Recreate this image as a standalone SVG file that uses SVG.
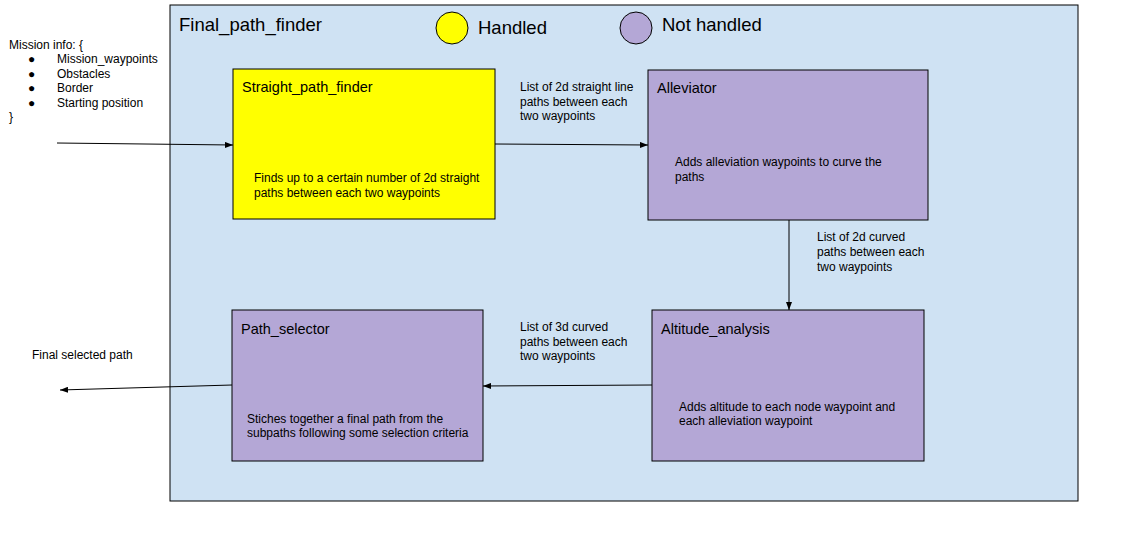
<svg xmlns="http://www.w3.org/2000/svg" width="1121" height="539" viewBox="0 0 1121 539">
<defs>
<style>
text{font-family:"Liberation Sans",Arial,sans-serif;fill:#000}
.title{font-size:14.5px}
.body{font-size:12px}
.big{font-size:18.5px}
.box{stroke:#000;stroke-width:1}
.y{fill:#ffff00}
.p{fill:#b4a7d6}
.conn{stroke:#000;stroke-width:1;fill:none;marker-end:url(#ah)}
</style>
<marker id="ah" viewBox="0 0 8 6" refX="8" refY="3" markerWidth="8" markerHeight="6" markerUnits="userSpaceOnUse" orient="auto">
<path d="M0,0 L8,3 L0,6 z" fill="#000"/>
</marker>
</defs>
<rect width="1121" height="539" fill="#fff"/>
<g id="container">
<rect x="170" y="5" width="908" height="496" fill="#cfe2f3" class="box"/>
<text x="179" y="31" class="big">Final_path_finder</text>
</g>
<g id="legend-handled">
<circle cx="452" cy="28" r="16" class="box y"/>
<text x="478" y="34" class="big">Handled</text>
</g>
<g id="legend-not-handled">
<circle cx="636" cy="28" r="16" class="box p"/>
<text x="662" y="31" class="big">Not handled</text>
</g>
<g id="mission-info">
<text x="9" y="49" class="body">Mission info: {</text>
<g class="body">
<text x="28" y="63">●</text><text x="57" y="63" class="body">Mission_waypoints</text>
<text x="28" y="78">●</text><text x="57" y="78" class="body">Obstacles</text>
<text x="28" y="92">●</text><text x="57" y="92" class="body">Border</text>
<text x="28" y="107">●</text><text x="57" y="107" class="body">Starting position</text>
</g>
<text x="9" y="121" class="body">}</text>
</g>
<g id="straight-path-finder">
<rect x="233" y="69" width="262" height="150" class="box y"/>
<text x="242" y="92" class="title">Straight_path_finder</text>
<text x="254" y="182" class="body">Finds up to a certain number of 2d straight</text>
<text x="254" y="197" class="body">paths between each two waypoints</text>
</g>
<g id="alleviator">
<rect x="648" y="70" width="280" height="150" class="box p"/>
<text x="657" y="93" class="title">Alleviator</text>
<text x="675" y="166" class="body">Adds alleviation waypoints to curve the</text>
<text x="675" y="181" class="body">paths</text>
</g>
<g id="altitude-analysis">
<rect x="652" y="310" width="272" height="151" class="box p"/>
<text x="661" y="334" class="title">Altitude_analysis</text>
<text x="679" y="411" class="body">Adds altitude to each node waypoint and</text>
<text x="679" y="425" class="body">each alleviation waypoint</text>
</g>
<g id="path-selector">
<rect x="232" y="310" width="251" height="151" class="box p"/>
<text x="241" y="334" class="title">Path_selector</text>
<text x="247" y="423" class="body">Stiches together a final path from the</text>
<text x="247" y="437" class="body">subpaths following some selection criteria</text>
</g>
<g id="connectors">
<line x1="57" y1="143" x2="233" y2="145" class="conn"/>
<line x1="495" y1="144" x2="648" y2="145" class="conn"/>
<line x1="789" y1="220" x2="789" y2="310" class="conn"/>
<line x1="652" y1="385" x2="483" y2="386" class="conn"/>
<line x1="232" y1="385" x2="60" y2="390" class="conn"/>
<g class="body">
<text x="520" y="91">List of 2d straight line</text>
<text x="520" y="106">paths between each</text>
<text x="520" y="120">two waypoints</text>
<text x="817" y="241">List of 2d curved</text>
<text x="817" y="256">paths between each</text>
<text x="817" y="271">two waypoints</text>
<text x="520" y="331">List of 3d curved</text>
<text x="520" y="346">paths between each</text>
<text x="520" y="360">two waypoints</text>
<text x="32" y="359">Final selected path</text>
</g>
</g>
</svg>
